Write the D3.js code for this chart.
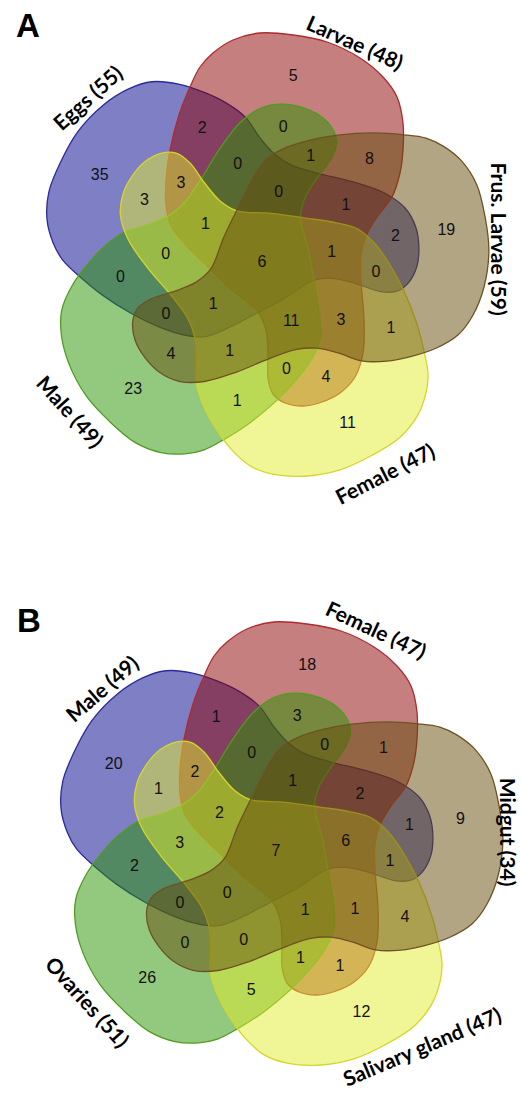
<!DOCTYPE html>
<html><head><meta charset="utf-8">
<script src="https://cdn.jsdelivr.net/npm/d3@7"></script>
<style>html,body{margin:0;padding:0;background:#fff}svg{display:block}</style>
</head><body>
<svg id="chart" width="521" height="1094"></svg>
<script>
// ---------- DATA ----------
// Sets in ring order: 0 = top (red), 1 = right (brown), 2 = lower right (yellow), 3 = lower left (green), 4 = upper left (blue)
const setNamesA = ["Larvae (48)", "Frus. Larvae (59)", "Female (47)", "Male (49)", "Eggs (55)"];
const setNamesB = ["Female (47)", "Midgut (34)", "Salivary gland (47)", "Ovaries (51)", "Male (49)"];

// Region counts; entry k belongs to the region type rotated onto set k
// only set k
const onlyA = [5, 19, 11, 23, 35];
const onlyB = [18, 9, 12, 26, 20];
// sets k and k+1
const adjPairA = [8, 1, 1, 0, 2];
const adjPairB = [1, 4, 5, 2, 1];
// sets k and k+3
const skipPairA = [0, 2, 4, 4, 3];
const skipPairB = [3, 1, 1, 0, 1];
// sets k, k+1 and k+3
const tripleSplitA = [1, 0, 0, 0, 3];
const tripleSplitB = [0, 1, 1, 0, 2];
// sets k, k+3 and k+4
const tripleRunA = [0, 1, 3, 1, 0];
const tripleRunB = [0, 2, 1, 0, 3];
// all sets except k+2
const quadA = [0, 1, 11, 1, 1];
const quadB = [1, 6, 1, 0, 2];
// all five sets
const allFiveA = 6;
const allFiveB = 7;

// ---------- LAYOUT ----------
// outline of set 0, as offsets from the panel centre (other sets are rotations by 72 degrees)
const blobTemplate = [
  [-31,-218],[-4,-225],[29,-223],[63,-216],[96,-200],[119,-181],[133,-161],[139,-135],
  [139,-108],[136,-85],[128,-61],[113,-41],[102,-22],[97,-3],[97,22],[100,62],[99,95],
  [91,119],[76,135],[58,144],[39,148],[21,145],[9,136],[4,120],[4,95],[2,72],[-6,54],
  [-32,32],[-57,8],[-80,-15],[-93,-32],[-98,-53],[-98,-78],[-94,-108],[-85,-143],
  [-74,-171],[-64,-191],[-51,-205]
];
// label anchor (screen angle in degrees, radius) of each region type in the frame of set 0
const regionAnchor = {
  only: [-80.9, 184.6], adjPair: [-43.3, 144.8], skipPair: [-81.7, 133.3],
  tripleSplit: [-65.5, 112.8], tripleRun: [-105.5, 98.3], quad: [-77.6, 68]
};
// set-name placement: [screen angle, radius, text rotation]
const nameLayoutA = [[-67.1,233.5,24],[-4.6,235.8,90],[60.7,247.6,-27],[141.6,247.7,48],[-137.7,237.9,-42]];
const nameLayoutB = [[-65.7,238,25],[-3.7,230.5,90],[54.2,246.5,-23],[140.9,246,48],[-138,236.5,-41]];

const svg = d3.select("#chart");
svg.append("rect").attr("width", 521).attr("height", 1094).attr("fill", "#fff");

const setFill = d3.scaleOrdinal().domain([0,1,2,3,4])
  .range(["rgb(139,0,0)", "rgb(100,75,10)", "rgb(225,235,45)", "rgb(40,148,0)", "rgb(0,0,139)"]);
const setStroke = d3.scaleOrdinal().domain([0,1,2,3,4])
  .range(["#b02a2e", "#6f5224", "#d6d62a", "#4f9c1e", "#2a2a9c"]);
const drawOrder = [4, 0, 3, 2, 1];
const step = 360 / 5;
const rad = Math.PI / 180;

const templatePolar = blobTemplate.map(([x, y]) => ({ a: Math.atan2(x, -y), r: Math.hypot(x, y) }));

function polar(angleDeg, r) {
  return [r * Math.cos(angleDeg * rad), r * Math.sin(angleDeg * rad)];
}

function drawPanel(cx, cy, names, counts, allFive, nameLayout, letter, letterPos) {
  const g = svg.append("g").attr("transform", `translate(${cx},${cy})`);
  const blobLine = k => d3.lineRadial()
    .angle(d => d.a + k * step * rad)
    .radius(d => d.r)
    .curve(d3.curveCatmullRomClosed.alpha(0.5));

  g.selectAll("path.set").data(drawOrder).join("path")
    .attr("class", "set")
    .attr("d", k => blobLine(k)(templatePolar))
    .attr("fill", k => setFill(k))
    .attr("fill-opacity", 0.5)
    .attr("stroke", k => setStroke(k))
    .attr("stroke-width", 1.3);

  const regions = [];
  Object.keys(regionAnchor).forEach(type => {
    counts[type].forEach((v, k) => {
      const [a, r] = regionAnchor[type];
      const [x, y] = polar(a + k * step, r);
      regions.push({ x, y, v });
    });
  });
  regions.push({ x: -2, y: 3, v: allFive });

  g.selectAll("text.count").data(regions).join("text")
    .attr("class", "count")
    .attr("x", d => d.x).attr("y", d => d.y)
    .attr("dy", "0.36em")
    .attr("text-anchor", "middle")
    .attr("font-family", "'Liberation Sans', Arial, sans-serif")
    .attr("font-size", 16)
    .attr("fill", "#111")
    .text(d => d.v);

  g.selectAll("text.setname").data(names).join("text")
    .attr("class", "setname")
    .attr("transform", (d, i) => {
      const [a, r, rot] = nameLayout[i];
      const [x, y] = polar(a, r);
      return `translate(${x},${y}) rotate(${rot})`;
    })
    .attr("dy", "0.36em")
    .attr("text-anchor", "middle")
    .attr("font-family", "Lato, 'Open Sans', sans-serif")
    .attr("font-weight", 700)
    .attr("font-size", 21)
    .attr("fill", "#000")
    .text(d => d);

  svg.append("text")
    .attr("x", letterPos[0]).attr("y", letterPos[1])
    .attr("font-family", "'Liberation Sans', Arial, sans-serif")
    .attr("font-weight", 700)
    .attr("font-size", 33)
    .attr("fill", "#000")
    .text(letter);
}

drawPanel(264, 258, setNamesA,
  { only: onlyA, adjPair: adjPairA, skipPair: skipPairA, tripleSplit: tripleSplitA, tripleRun: tripleRunA, quad: quadA },
  allFiveA, nameLayoutA, "A", [16, 37]);
drawPanel(278, 847, setNamesB,
  { only: onlyB, adjPair: adjPairB, skipPair: skipPairB, tripleSplit: tripleSplitB, tripleRun: tripleRunB, quad: quadB },
  allFiveB, nameLayoutB, "B", [17, 632]);
</script>
</body></html>
